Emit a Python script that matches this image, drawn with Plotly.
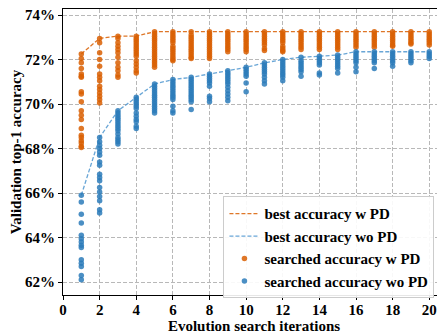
import plotly.graph_objects as go

iterations = list(range(1, 21))

searched_w_pd = [
    [72.25, 72.05, 71.85, 71.6, 71.35, 71.25, 71.2, 70.55, 70.45, 70.1, 69.7, 69.5, 69.3, 68.9, 68.6, 68.5, 68.35, 68.25, 68.1, 68.05],
    [72.95, 72.75, 72.3, 72.0, 71.7, 71.35, 71.2, 71.05, 70.8, 70.65, 70.5, 70.35, 70.2, 70.05],
    [73.05, 72.95, 72.75, 72.6, 72.45, 72.3, 72.1, 71.85, 71.65, 71.5, 71.3, 71.2],
    [73.05, 72.95, 72.85, 72.75, 72.65, 72.55, 72.45, 72.35, 72.25, 72.15, 71.95, 71.8, 71.65, 71.5, 71.4],
    [73.25, 73.15, 73.05, 72.95, 72.85, 72.75, 72.65, 72.55, 72.45, 72.35, 72.25, 72.15, 72.05, 71.95, 71.85, 71.75, 71.65],
    [73.25, 73.15, 73.05, 72.95, 72.85, 72.75, 72.6, 72.5, 72.4, 72.3, 72.2, 72.1, 72.0, 71.95],
    [73.25, 73.1, 73.0, 72.9, 72.8, 72.7, 72.6, 72.5, 72.4, 72.3, 72.2, 72.1, 72.05],
    [73.25, 73.15, 73.05, 72.95, 72.85, 72.75, 72.65, 72.55, 72.45, 72.35, 72.25, 72.15, 72.05],
    [73.25, 73.15, 73.05, 72.95, 72.85, 72.75, 72.65, 72.55, 72.45, 72.35],
    [73.25, 73.15, 73.05, 72.95, 72.85, 72.75, 72.65, 72.55, 72.45, 72.35],
    [73.25, 73.15, 73.05, 72.95, 72.85, 72.75, 72.65, 72.5, 72.4],
    [73.25, 73.15, 73.05, 72.95, 72.85, 72.75, 72.6, 72.5, 72.4, 72.35],
    [73.25, 73.15, 73.05, 72.95, 72.85, 72.75, 72.65, 72.55, 72.45],
    [73.25, 73.15, 73.05, 72.95, 72.85, 72.75, 72.65, 72.55, 72.45],
    [73.25, 73.15, 73.05, 72.95, 72.85, 72.75, 72.65, 72.55, 72.45],
    [73.25, 73.15, 73.05, 72.95, 72.85, 72.75, 72.65, 72.55],
    [73.25, 73.15, 73.05, 72.95, 72.85, 72.75, 72.65, 72.55],
    [73.25, 73.15, 73.05, 72.95, 72.85, 72.75, 72.65, 72.6],
    [73.25, 73.15, 73.05, 72.95, 72.85, 72.75, 72.7],
    [73.25, 73.15, 73.05, 72.95, 72.85, 72.75, 72.65],
]

searched_wo_pd = [
    [65.9, 65.6, 65.05, 64.65, 64.1, 63.95, 63.8, 63.65, 63.55, 63.0, 62.85, 62.7, 62.3, 62.1],
    [68.5, 68.3, 68.15, 68.0, 67.85, 67.7, 67.4, 67.25, 66.85, 66.7, 66.55, 66.25, 66.05, 65.85, 65.65, 65.25, 65.1],
    [69.7, 69.6, 69.5, 69.4, 69.3, 69.2, 69.1, 69.0, 68.9, 68.8, 68.65, 68.5, 68.4, 68.3, 68.2],
    [70.3, 70.2, 70.1, 70.0, 69.9, 69.8, 69.6, 69.45, 69.3, 69.2, 69.0, 68.9],
    [70.9, 70.8, 70.7, 70.6, 70.5, 70.4, 70.3, 70.2, 70.1, 70.0, 69.9, 69.8, 69.7, 69.6],
    [71.1, 71.0, 70.9, 70.8, 70.7, 70.6, 70.5, 70.4, 70.3, 70.2, 69.9, 69.7, 69.6],
    [71.2, 71.1, 71.0, 70.9, 70.8, 70.7, 70.6, 70.5, 70.4, 70.3, 70.2, 70.1, 69.75],
    [71.35, 71.25, 71.15, 71.05, 70.95, 70.8, 70.35, 70.25, 70.1],
    [71.5, 71.4, 71.3, 71.2, 71.1, 71.0, 70.9, 70.75, 70.6, 70.45, 70.3, 70.15],
    [71.65, 71.55, 71.45, 71.35, 71.25, 70.95, 70.55],
    [71.85, 71.75, 71.65, 71.55, 71.45, 71.35, 71.2, 71.05, 70.9],
    [72.0, 71.9, 71.8, 71.7, 71.6, 71.5, 71.4, 71.3, 71.2, 71.05],
    [72.1, 71.95, 71.85, 71.75, 71.65, 71.55, 71.45, 71.25],
    [72.15, 72.05, 71.95, 71.85, 71.75, 71.4, 71.3],
    [72.2, 72.1, 72.0, 71.9, 71.8, 71.7, 71.6, 71.4],
    [72.35, 72.25, 72.15, 72.05, 71.95, 71.85, 71.65, 71.45],
    [72.35, 72.25, 72.15, 72.05, 71.95, 71.85, 71.6],
    [72.35, 72.25, 72.15, 72.05, 71.95, 71.85, 71.7],
    [72.35, 72.25, 72.15, 72.05, 71.95, 71.85],
    [72.35, 72.25, 72.15, 72.05],
]

best_w_pd = [72.25, 72.95, 73.05, 73.05, 73.25, 73.25, 73.25, 73.25, 73.25, 73.25,
             73.25, 73.25, 73.25, 73.25, 73.25, 73.25, 73.25, 73.25, 73.25, 73.25]
best_wo_pd = [65.9, 68.5, 69.7, 70.3, 70.9, 71.1, 71.2, 71.35, 71.5, 71.65,
              71.85, 72.0, 72.1, 72.15, 72.2, 72.35, 72.35, 72.35, 72.35, 72.35]

x_ticks = [0, 2, 4, 6, 8, 10, 12, 14, 16, 18, 20]
y_ticks = [62, 64, 66, 68, 70, 72, 74]
y_tick_labels = ["62%", "64%", "66%", "68%", "70%", "72%", "74%"]

ORANGE = "#d95f02"
BLUE = "#2b7bba"
FONT = "Liberation Serif"


def flatten(groups):
    xs, ys = [], []
    for it, vals in zip(iterations, groups):
        xs += [it] * len(vals)
        ys += vals
    return xs, ys


xo, yo = flatten(searched_w_pd)
xb, yb = flatten(searched_wo_pd)

fig = go.Figure()
fig.add_trace(go.Scatter(x=iterations, y=best_w_pd, mode="lines",
                         line=dict(color=ORANGE, width=1.3, dash="4px,2px"),
                         opacity=0.85, name="best accuracy w PD"))
fig.add_trace(go.Scatter(x=iterations, y=best_wo_pd, mode="lines",
                         line=dict(color="#4f97d0", width=1.3, dash="4px,2px"),
                         opacity=0.85, name="best accuracy wo PD"))
fig.add_trace(go.Scatter(x=xo, y=yo, mode="markers",
                         marker=dict(color=ORANGE, size=5.5, opacity=0.85, line=dict(width=0)),
                         name="searched accuracy w PD"))
fig.add_trace(go.Scatter(x=xb, y=yb, mode="markers",
                         marker=dict(color=BLUE, size=5.5, opacity=0.85, line=dict(width=0)),
                         name="searched accuracy wo PD"))

fig.update_layout(
    width=437, height=327,
    margin=dict(l=55, r=0, t=1, b=40, autoexpand=False),
    plot_bgcolor="white", paper_bgcolor="white",
    font=dict(family=FONT, color="black"),
    showlegend=True,
    legend=dict(x=0.42, y=0.345, xanchor="left", yanchor="top",
                bgcolor="rgba(255,255,255,0.9)", bordercolor="#cccccc", borderwidth=1,
                font=dict(family=FONT, size=15, color="black", weight="bold"),
                tracegroupgap=0, itemwidth=30),
)
fig.update_xaxes(
    automargin=False,
    range=[0, 20.86], tickvals=x_ticks, ticktext=[str(t) for t in x_ticks],
    showline=True, linecolor="black", linewidth=1.2, mirror=True,
    ticks="outside", ticklen=4, tickcolor="black",
    ticklabelstandoff=-3, ticklabeloverflow="allow",
    showgrid=True, gridcolor="#b8b8b8", griddash="4px,2px", gridwidth=1,
    zeroline=False,
    tickfont=dict(family=FONT, size=15, color="black", weight="bold"),
    title=dict(text="Evolution search iterations", standoff=0,
               font=dict(family=FONT, size=15, color="black", weight="bold")),
)
fig.update_yaxes(
    automargin=False,
    range=[61.42, 74.27], tickvals=y_ticks, ticktext=y_tick_labels,
    showline=True, linecolor="black", linewidth=1.2,
    ticks="outside", ticklen=4, tickcolor="black",
    ticklabeloverflow="allow",
    showgrid=True, gridcolor="#b8b8b8", griddash="4px,2px", gridwidth=1,
    zeroline=False,
    tickfont=dict(family=FONT, size=15, color="black", weight="bold"),
    title=dict(text="Validation top-1 accuracy", standoff=4,
               font=dict(family=FONT, size=15, color="black", weight="bold")),
)

fig.write_html("out.html")
